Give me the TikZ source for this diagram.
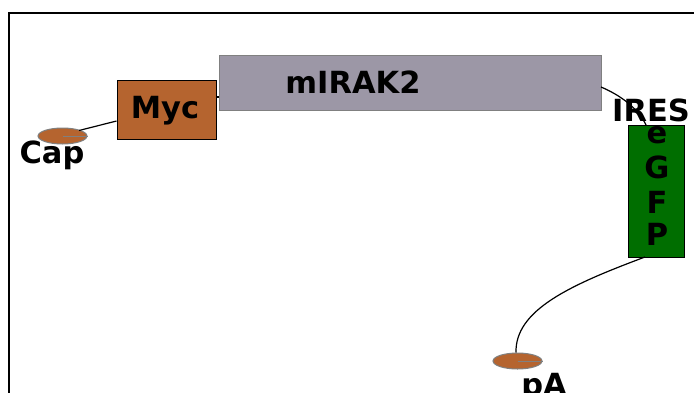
\documentclass[tikz,border=0pt]{standalone}
\usepackage{fontspec}
\setmainfont{DejaVu Sans}
\usetikzlibrary{shapes.geometric}
\definecolor{sien}{HTML}{B5642F}
\definecolor{lav}{HTML}{9C97A6}
\definecolor{gfp}{HTML}{006E00}
\begin{document}
\begin{tikzpicture}[x=1pt,y=-1pt,
  lbl/.style={font=\fontsize{30.5}{34}\selectfont\bfseries, inner sep=0pt},
  capsule/.style={ellipse, draw=gray, line width=1pt, fill=sien, minimum width=49pt, minimum height=16pt, inner sep=0pt},
  conn/.style={black, line width=1.2pt}]
\useasboundingbox (0,0) rectangle (694,392);
% frame
\draw[line width=2pt] (9,394) -- (9,13) -- (696,13);
% boxes
\node[draw=black, line width=1pt, fill=sien, minimum width=99pt, minimum height=59pt, inner sep=0pt] (myc) at (166.5,109.5) {};
\node[draw=gray, line width=1.2pt, fill=lav, minimum width=382pt, minimum height=55pt, inner sep=0pt] (irak) at (410.5,83) {};
\node[draw=black, line width=1pt, fill=gfp, minimum width=56pt, minimum height=132pt, inner sep=0pt] (egfp) at (656,191) {};
\node[capsule] (cap) at (62.5,136) {};
\node[capsule] (pa) at (517.5,361) {};
% connectors
\draw[gray, line width=1pt] (cap.center) -- (cap.east);
\draw[gray, line width=1pt] (pa.center) -- (pa.east);
\coordinate (capout) at (79,130.5);
\coordinate (mycin) at (116.5,121);
\draw[conn] (capout) -- (mycin);
\draw[conn] (myc.east |- 0,97) -- (irak.west |- 0,97);
\coordinate (irakout) at (601,87);
\coordinate (egfpin) at (646,125);
\draw[conn] (irakout) .. controls (620,95) and (638,108) .. (egfpin);
\coordinate (egfpout) at (645,257);
\coordinate (pain) at (516,352.5);
\draw[conn] (egfpout) .. controls (570,285) and (515,310) .. (pain);
% labels
\node[lbl, anchor=base] (myct) at (165,118.5) {Myc};
\node[lbl, anchor=base] (irakt) at (353,93.5) {mIRAK2};
\node[lbl, anchor=base] (capt) at (52,163) {Cap};
\node[lbl, anchor=base] (pat) at (544,395) {pA};
\node[lbl, anchor=base west] (irest) at (612,121) {IRES};
\node[lbl, anchor=base] (e) at (657,143) {e};
\node[lbl, anchor=base] (g) at (657,178) {G};
\node[lbl, anchor=base] (f) at (657,213) {F};
\node[lbl, anchor=base] (p) at (657,245) {P};
\end{tikzpicture}
\end{document}
